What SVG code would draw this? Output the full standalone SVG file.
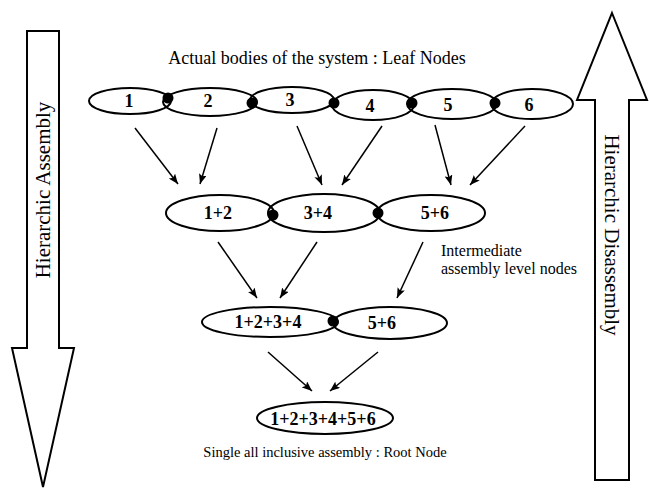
<svg xmlns="http://www.w3.org/2000/svg" width="649" height="488" viewBox="0 0 649 488">
<defs>
<marker id="ah" viewBox="0 0 10 8" refX="10" refY="4" markerWidth="10" markerHeight="8" markerUnits="userSpaceOnUse" orient="auto">
<path d="M0,0 L10,4 L0,8 L2,4 Z" fill="#000"/>
</marker>
<style>
.e{fill:none;stroke:#000;stroke-width:2}
.d{fill:#000}
.n{font-family:"Liberation Serif",serif;font-weight:bold;font-size:18px;text-anchor:middle;fill:#000}
.t{font-family:"Liberation Serif",serif;fill:#000}
.c{fill:none;stroke:#000;stroke-width:1.5;marker-end:url(#ah)}
.big{fill:#fff;stroke:#000;stroke-width:2}
</style>
</defs>
<rect width="649" height="488" fill="#fff"/>

<g id="assembly-arrow">
<path class="big" d="M27,31 L59,31 L59,348 L74,348 L43,487 L12,348 L27,348 Z"/>
<text class="t" font-size="21" text-anchor="middle" transform="translate(50,190) rotate(-90)">Hierarchic Assembly</text>
</g>
<g id="disassembly-arrow">
<path class="big" d="M612,13 L647,100 L629,100 L629,480 L595,480 L595,100 L577,100 Z"/>
<text class="t" font-size="21" text-anchor="middle" transform="translate(605,235) rotate(90)">Hierarchic Disassembly</text>
</g>

<text class="t" font-size="18" x="317" y="64" text-anchor="middle">Actual bodies of the system : Leaf Nodes</text>

<g id="leaf-1"><ellipse class="e" cx="130" cy="101" rx="41" ry="13"/><text class="n" x="129" y="107">1</text></g>
<g id="leaf-2"><ellipse class="e" cx="210" cy="102" rx="47" ry="14"/><text class="n" x="208" y="107">2</text></g>
<g id="leaf-3"><ellipse class="e" cx="292" cy="100" rx="42" ry="13"/><text class="n" x="290" y="106">3</text></g>
<g id="leaf-4"><ellipse class="e" cx="373" cy="105" rx="41" ry="15"/><text class="n" x="370" y="112">4</text></g>
<g id="leaf-5"><ellipse class="e" cx="452" cy="104" rx="45" ry="15"/><text class="n" x="448" y="111">5</text></g>
<g id="leaf-6"><ellipse class="e" cx="532" cy="104" rx="41" ry="15"/><text class="n" x="529" y="111">6</text></g>
<g id="leaf-joints">
<circle class="d" cx="168" cy="98" r="5.5"/>
<circle class="d" cx="252" cy="103" r="5.5"/>
<circle class="d" cx="334" cy="103" r="5.5"/>
<circle class="d" cx="412" cy="103" r="5.5"/>
<circle class="d" cx="495" cy="103" r="5.5"/>
</g>

<g id="mid-12"><ellipse class="e" cx="220" cy="213" rx="54" ry="18"/><text class="n" x="218" y="219">1+2</text></g>
<g id="mid-34"><ellipse class="e" cx="324" cy="213" rx="56" ry="19"/><text class="n" x="318" y="219">3+4</text></g>
<g id="mid-56"><ellipse class="e" cx="431" cy="213" rx="54" ry="18"/><text class="n" x="435" y="219">5+6</text></g>
<g id="mid-joints">
<circle class="d" cx="273" cy="215" r="5.5"/>
<circle class="d" cx="378" cy="213" r="5.5"/>
</g>

<text class="t" font-size="16" x="441" y="256">Intermediate</text>
<text class="t" font-size="16" x="441" y="274">assembly level nodes</text>

<g id="l3-1234"><ellipse class="e" cx="270" cy="322" rx="68" ry="15"/><text class="n" x="268" y="328">1+2+3+4</text></g>
<g id="l3-56"><ellipse class="e" cx="390" cy="323" rx="57" ry="16"/><text class="n" x="382" y="329">5+6</text></g>
<g id="l3-joint"><circle class="d" cx="333" cy="321" r="5.5"/></g>

<g id="root"><ellipse class="e" cx="325" cy="418" rx="68" ry="16"/><text class="n" x="323" y="425">1+2+3+4+5+6</text></g>
<text class="t" font-size="14.5" x="325" y="457" text-anchor="middle">Single all inclusive assembly : Root Node</text>

<g id="connectors">
<line class="c" x1="135" y1="128" x2="178" y2="184"/>
<line class="c" x1="217" y1="128" x2="200" y2="184"/>
<line class="c" x1="297" y1="126" x2="322" y2="185"/>
<line class="c" x1="382" y1="126" x2="342" y2="185"/>
<line class="c" x1="435" y1="125" x2="451" y2="185"/>
<line class="c" x1="525" y1="126" x2="470" y2="185"/>
<line class="c" x1="218" y1="242" x2="257" y2="298"/>
<line class="c" x1="317" y1="242" x2="280" y2="298"/>
<line class="c" x1="423" y1="242" x2="397" y2="298"/>
<line class="c" x1="268" y1="352" x2="312" y2="391"/>
<line class="c" x1="378" y1="352" x2="330" y2="391"/>
</g>
</svg>
